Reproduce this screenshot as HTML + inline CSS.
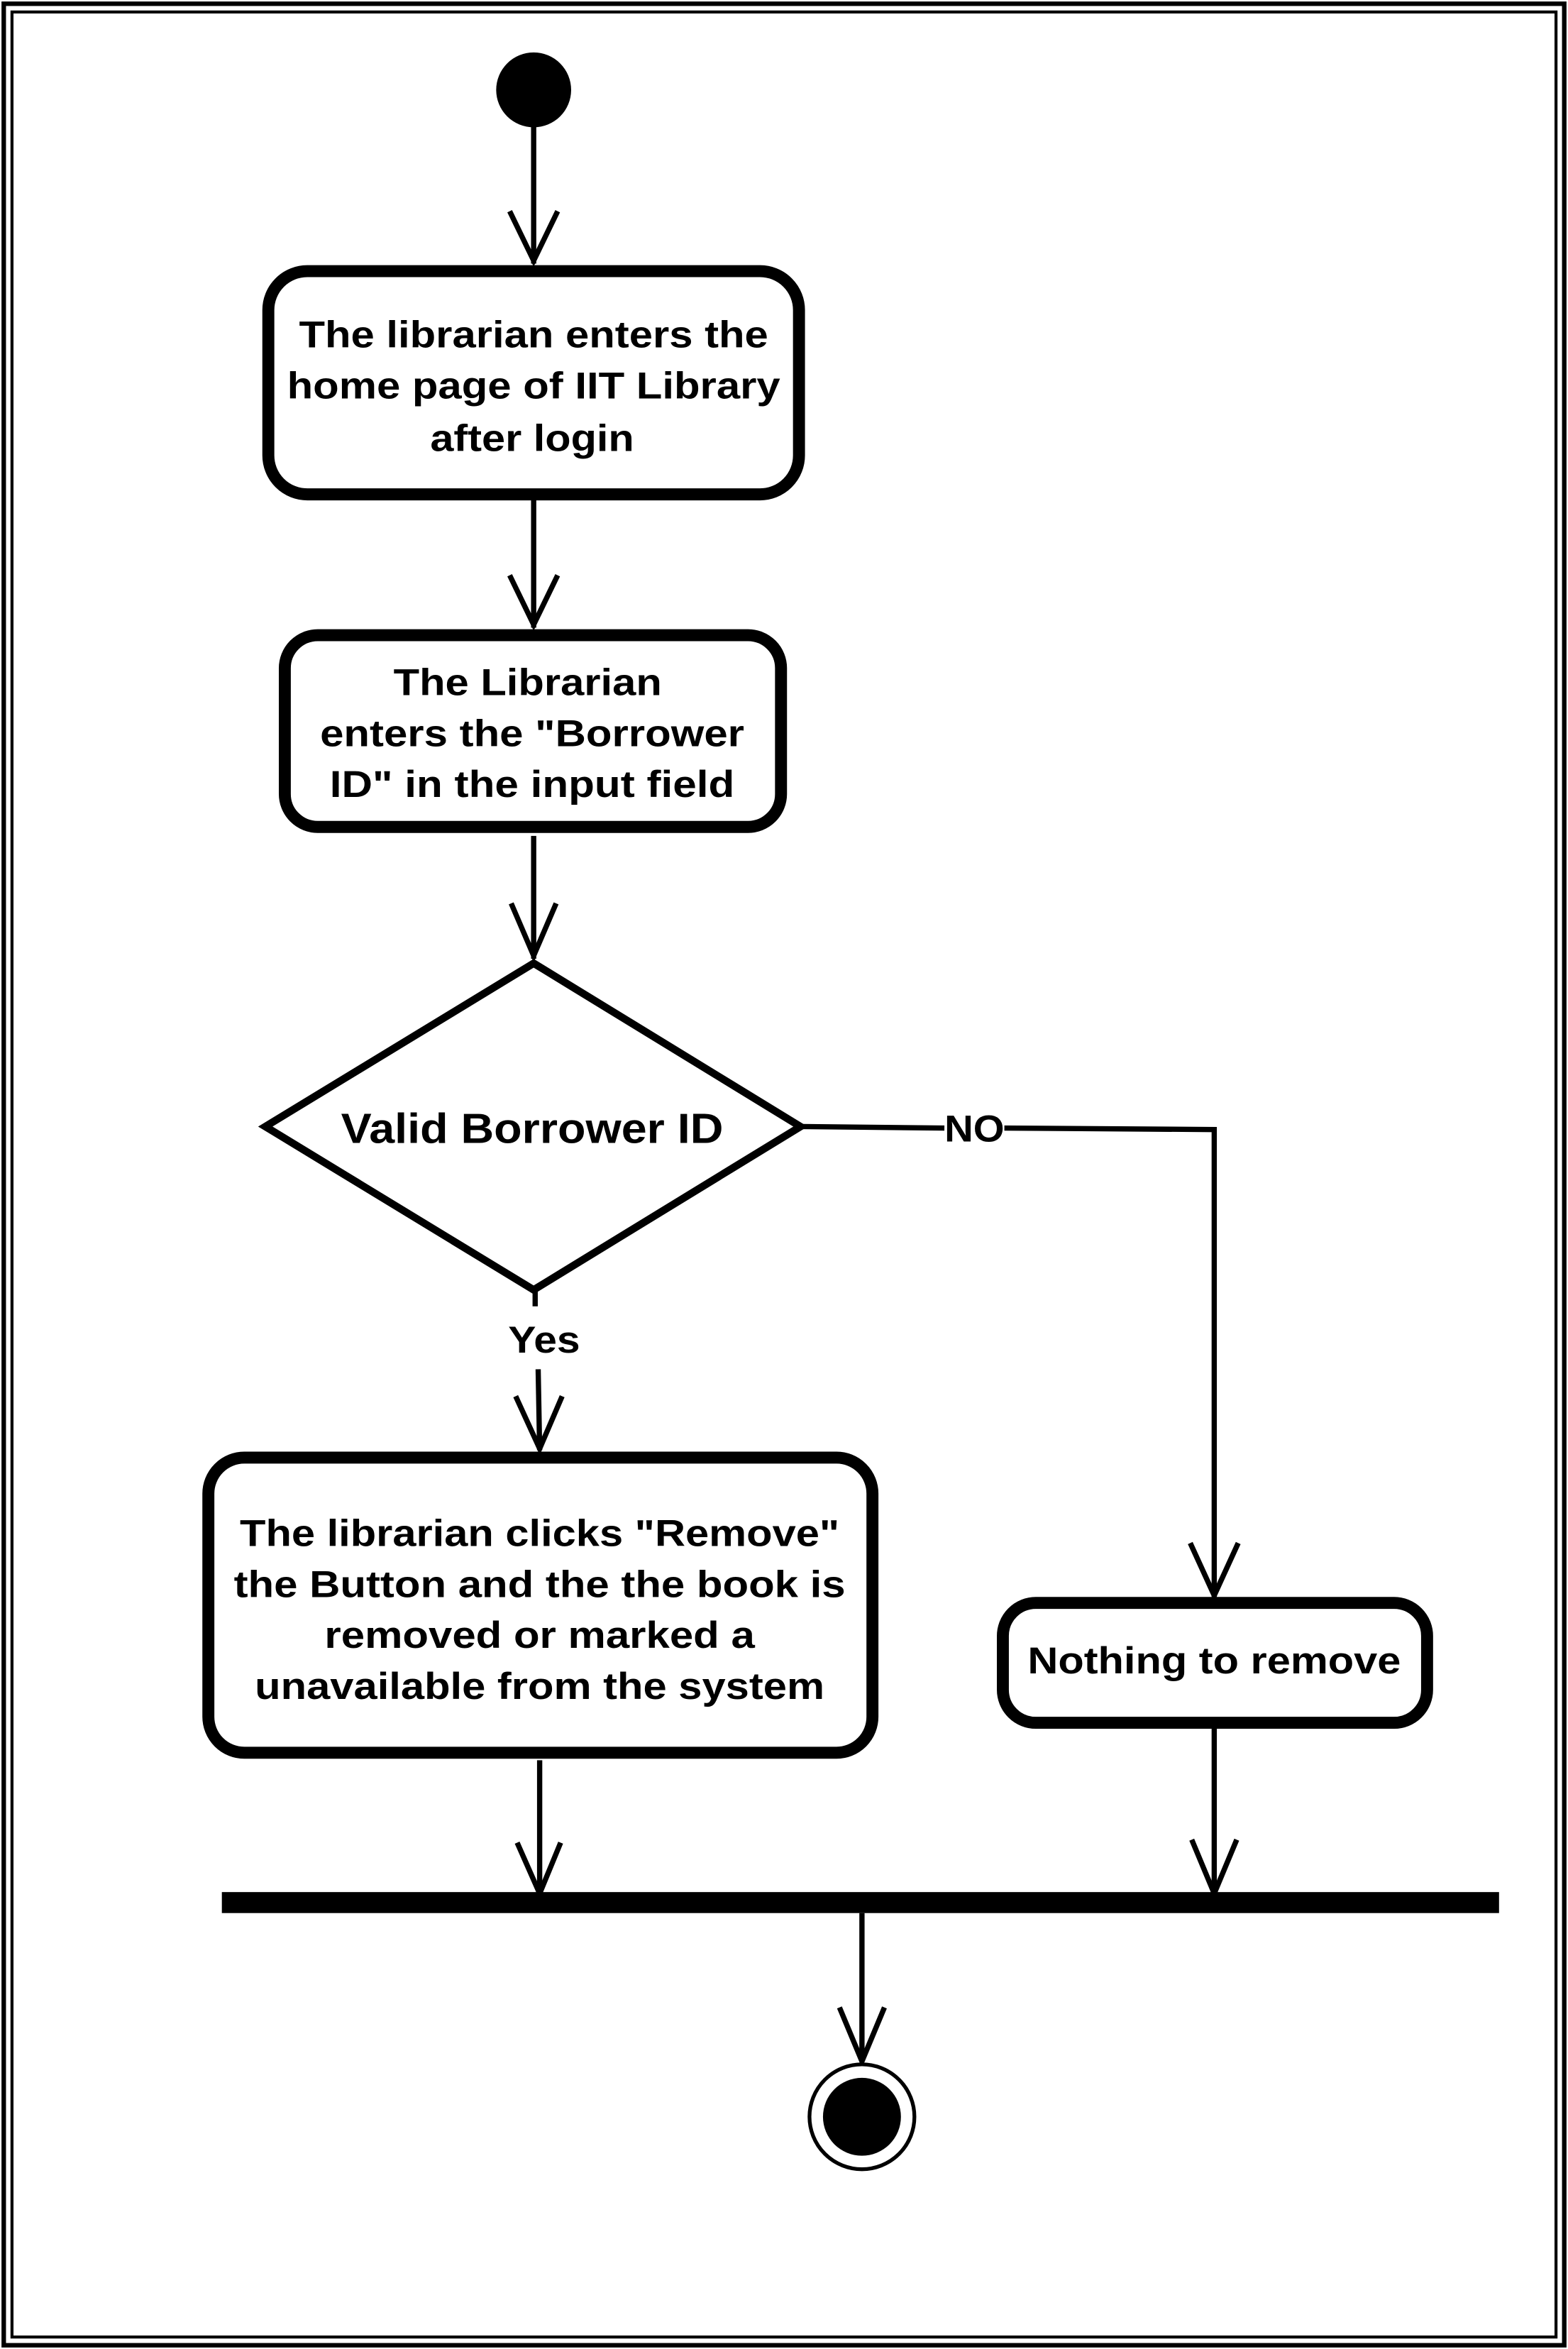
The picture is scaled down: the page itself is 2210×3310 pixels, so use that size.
<!DOCTYPE html>
<html><head><meta charset="utf-8"><style>
html,body{margin:0;padding:0;background:#fff;}
svg{display:block;}
text{font-family:"Liberation Sans",Arial,sans-serif;font-weight:bold;fill:#000;}
</style></head><body>
<svg width="2210" height="3310" viewBox="0 0 1046 1568" preserveAspectRatio="none" xmlns="http://www.w3.org/2000/svg">
<rect x="0" y="0" width="1046" height="1568" fill="#fff"/>
<rect x="2.5" y="2.5" width="1041" height="1563" fill="none" stroke="#000" stroke-width="3"/>
<rect x="8" y="8" width="1030" height="1552" fill="none" stroke="#000" stroke-width="2"/>
<g fill="none" stroke="#000" stroke-width="3.5">
<line x1="356" y1="80" x2="356" y2="176"/>
<polyline points="340,141 356,174 372,141"/>
<line x1="356" y1="332" x2="356" y2="419"/>
<polyline points="340,384 356,417 372,384"/>
<line x1="356" y1="558" x2="356" y2="640"/>
<polyline points="341,603 356,638 371,603"/>
<polyline points="535,752 630,753"/>
<polyline points="670,753 810,754 810,1066"/>
<polyline points="794,1030 810,1065 826,1030"/>
<line x1="357" y1="862" x2="357" y2="872"/>
<line x1="359" y1="914" x2="360" y2="968"/>
<polyline points="344,932 360,967 375,932"/>
<line x1="360" y1="1175" x2="360" y2="1264"/>
<polyline points="345,1230 360,1264 374,1230"/>
<line x1="810" y1="1152" x2="810" y2="1264"/>
<polyline points="795,1228 810,1264 825,1228"/>
<line x1="575" y1="1277" x2="575" y2="1376"/>
<polyline points="560,1340 575,1376 590,1340"/>
</g>
<circle cx="356" cy="60" r="25" fill="#000"/>
<g fill="#fff" stroke="#000" stroke-width="8">
<rect x="179" y="181" width="354" height="149" rx="26"/>
<rect x="190" y="424" width="331" height="128" rx="22"/>
<polygon points="356,643 177,752 356,861 534,752" stroke-width="5"/>
<rect x="139" y="973" width="443" height="197" rx="24"/>
<rect x="669" y="1070" width="283" height="80" rx="22"/>
</g>
<rect x="148" y="1263" width="852" height="14" fill="#000"/>
<circle cx="575" cy="1413" r="35" fill="#fff" stroke="#000" stroke-width="2.5"/>
<circle cx="575" cy="1413" r="26" fill="#000"/>
<g font-size="25" text-anchor="middle">
<text x="356" y="232" textLength="313" lengthAdjust="spacingAndGlyphs">The librarian enters the</text>
<text x="356" y="266" textLength="329" lengthAdjust="spacingAndGlyphs">home page of IIT Library</text>
<text x="355" y="301" textLength="136" lengthAdjust="spacingAndGlyphs">after login</text>
<text x="352" y="464" textLength="179" lengthAdjust="spacingAndGlyphs">The Librarian</text>
<text x="355" y="498" textLength="283" lengthAdjust="spacingAndGlyphs">enters the "Borrower</text>
<text x="355" y="532" textLength="270" lengthAdjust="spacingAndGlyphs">ID" in the input field</text>
<text x="355" y="763" font-size="28" textLength="255" lengthAdjust="spacingAndGlyphs">Valid Borrower ID</text>
<text x="360" y="1032" textLength="400" lengthAdjust="spacingAndGlyphs">The librarian clicks "Remove"</text>
<text x="360" y="1066" textLength="408" lengthAdjust="spacingAndGlyphs">the Button and the the book is</text>
<text x="360" y="1100" textLength="287" lengthAdjust="spacingAndGlyphs">removed or marked a</text>
<text x="360" y="1134" textLength="380" lengthAdjust="spacingAndGlyphs">unavailable from the system</text>
<text x="810" y="1117" textLength="249" lengthAdjust="spacingAndGlyphs">Nothing to remove</text>
<text x="650" y="762" font-size="25" textLength="40" lengthAdjust="spacingAndGlyphs">NO</text>
<text x="363" y="903" font-size="25" textLength="48" lengthAdjust="spacingAndGlyphs">Yes</text>
</g>
</svg>
</body></html>
